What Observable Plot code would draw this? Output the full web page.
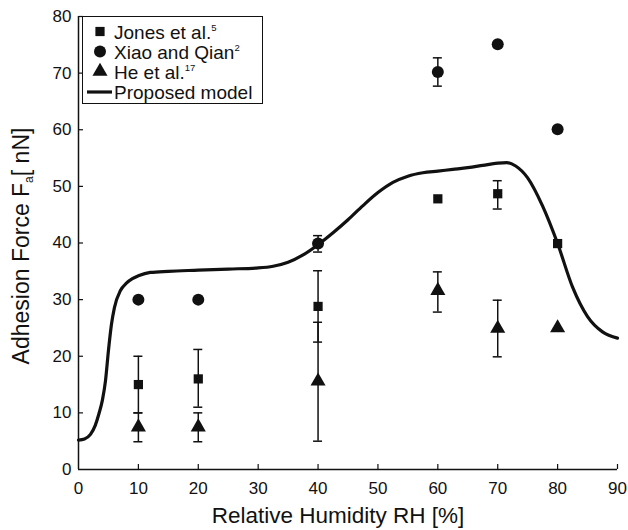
<!DOCTYPE html>
<html>
<head>
<meta charset="utf-8">
<script src="https://cdn.jsdelivr.net/npm/d3@7"></script>
<script src="https://cdn.jsdelivr.net/npm/@observablehq/plot@0.6"></script>
<style>
  html, body { margin: 0; padding: 0; background: #fff; }
  #chart { position: relative; width: 628px; height: 530px; }
</style>
</head>
<body>
<div id="chart"></div>
<script>
// ---- Data ----
const rh = [10, 20, 40, 60, 70, 80];

const jones   = [15, 16, 28.8, 47.8, 48.7, 39.9];
const jonesLo = [10, 11, 22.5, null, 46.0, null];
const jonesHi = [20, 21.2, 35.1, null, 51.0, null];

const xiao   = [30, 30, 39.9, 70.2, 75.1, 60.1];
const xiaoLo = [null, null, 38.4, 67.7, null, null];
const xiaoHi = [null, null, 41.3, 72.7, null, null];

const he   = [7.5, 7.5, 15.6, 31.6, 24.9, 25];
const heLo = [4.9, 4.9, 5.0, 27.8, 19.9, null];
const heHi = [10, 10, 26.0, 34.9, 29.9, null];

const modelX = [0, 1, 2, 2.8, 3.4, 4, 4.5, 5, 5.5, 6, 7, 8, 9, 10, 12, 15, 20, 25, 30, 32.5, 35, 37.5, 40, 42.5, 45, 47.5, 50, 52.5, 55, 57.5, 60, 62.5, 65, 67.5, 70, 71.5, 73, 75, 77.5, 80, 82.5, 85, 87.5, 90];
const modelY = [5.2, 5.4, 6.2, 7.8, 9.8, 12.3, 15.6, 21.0, 25.6, 28.6, 31.6, 32.9, 33.7, 34.2, 34.8, 35.0, 35.2, 35.4, 35.6, 35.9, 36.6, 37.9, 39.7, 41.8, 44.1, 46.6, 48.9, 50.7, 51.8, 52.4, 52.7, 53.0, 53.3, 53.7, 54.1, 54.2, 53.6, 51.5, 46.5, 39.9, 32.2, 27.0, 24.3, 23.2];

const xTicks = [0, 10, 20, 30, 40, 50, 60, 70, 80, 90];
const yTicks = [0, 10, 20, 30, 40, 50, 60, 70, 80];

const xLabel = "Relative Humidity RH [%]";
const yLabelMain = "Adhesion Force F";
const yLabelSub = "a";
const yLabelEnd = "[ nN]";
const legendItems = [
  {name: "Jones et al.", sup: "5", symbol: "square"},
  {name: "Xiao and Qian", sup: "2", symbol: "circle"},
  {name: "He et al.", sup: "17", symbol: "triangle"},
  {name: "Proposed model", sup: "", symbol: "line"}
];

// ---- Build tables ----
const mk = (vals, lo, hi) => rh.map((x, i) => ({x, y: vals[i], lo: lo[i], hi: hi[i]}));
const J = mk(jones, jonesLo, jonesHi);
const X = mk(xiao, xiaoLo, xiaoHi);
const H = mk(he, heLo, heHi);
const allErr = [...J, ...X, ...H].filter(d => d.lo != null);
const model = modelX.map((x, i) => ({x, y: modelY[i]}));

const font = "'Liberation Sans', Arial, Helvetica, sans-serif";

const plot = Plot.plot({
  width: 628,
  height: 530,
  marginLeft: 78,
  marginRight: 11,
  marginTop: 16,
  marginBottom: 61,
  style: {fontFamily: font, fontSize: "17px", color: "#111", background: "#fff", overflow: "visible"},
  x: {domain: [0, 90], ticks: xTicks, label: null},
  y: {domain: [0, 80], ticks: yTicks, label: null},
  marks: [
    Plot.axisX({ticks: xTicks, tickSize: 0, tickPadding: 12, fontSize: 17, label: null}),
    Plot.axisY({ticks: yTicks, tickSize: 0, tickPadding: 7, fontSize: 17, label: null}),
    // inward ticks
    Plot.ruleX(xTicks.slice(1), {x: d => d, y1: 0, y2: 0, insetTop: -5, stroke: "#111", strokeWidth: 1.2}),
    Plot.ruleY(yTicks.slice(1), {y: d => d, x1: 0, x2: 0, insetRight: -5, stroke: "#111", strokeWidth: 1.2}),
    // axis lines
    Plot.ruleY([0], {x1: 0, x2: 90, stroke: "#111", strokeWidth: 1.5}),
    Plot.ruleX([0], {y1: 0, y2: 80, stroke: "#111", strokeWidth: 1.5}),
    // model curve
    Plot.line(model, {x: "x", y: "y", curve: "monotone-x", stroke: "#111", strokeWidth: 3.2}),
    // error bars
    Plot.ruleX(allErr, {x: "x", y1: "lo", y2: "hi", stroke: "#111", strokeWidth: 1.5}),
    Plot.ruleY(allErr, {y: "lo", x1: "x", x2: "x", insetLeft: -4.5, insetRight: -4.5, stroke: "#111", strokeWidth: 1.5}),
    Plot.ruleY(allErr, {y: "hi", x1: "x", x2: "x", insetLeft: -4.5, insetRight: -4.5, stroke: "#111", strokeWidth: 1.5}),
    // points
    Plot.dot(J, {x: "x", y: "y", symbol: "square", r: 5.2, fill: "#111", stroke: "none"}),
    Plot.dot(X, {x: "x", y: "y", symbol: "circle", r: 6, fill: "#111", stroke: "none"}),
    Plot.dot(H, {x: "x", y: "y", symbol: "triangle", r: 5.6, fill: "#111", stroke: "none"})
  ]
});

document.getElementById("chart").appendChild(plot);

// ---- Axis labels and legend added to the SVG ----
const svg = d3.select(plot);

svg.append("text")
  .attr("x", 338).attr("y", 523)
  .attr("text-anchor", "middle")
  .attr("font-family", font).attr("font-size", 22.5).attr("fill", "#111")
  .text(xLabel);

const yl = svg.append("text")
  .attr("transform", "translate(29,246) rotate(-90)")
  .attr("text-anchor", "middle")
  .attr("font-family", font).attr("font-size", 23).attr("fill", "#111");
yl.append("tspan").text(yLabelMain);
yl.append("tspan").attr("font-size", 12).attr("dy", 4).text(yLabelSub);
yl.append("tspan").attr("dy", -4).text(yLabelEnd);

const lg = svg.append("g");
lg.append("rect")
  .attr("x", 82.5).attr("y", 16.5).attr("width", 180).attr("height", 87)
  .attr("fill", "#fff").attr("stroke", "#111").attr("stroke-width", 1);

const rowY = [31.5, 51.5, 71.5, 92];
const sym = {square: d3.symbolSquare, circle: d3.symbolCircle, triangle: d3.symbolTriangle};
const symR = {square: 5.2, circle: 6, triangle: 5.6};
legendItems.forEach((it, i) => {
  const cy = rowY[i];
  if (it.symbol === "line") {
    lg.append("line").attr("x1", 87).attr("x2", 112).attr("y1", cy).attr("y2", cy)
      .attr("stroke", "#111").attr("stroke-width", 3.2);
  } else {
    const r = symR[it.symbol];
    lg.append("path")
      .attr("transform", `translate(100,${cy})`)
      .attr("d", d3.symbol(sym[it.symbol], Math.PI * r * r)())
      .attr("fill", "#111");
  }
  const t = lg.append("text")
    .attr("x", 114).attr("y", cy + 7)
    .attr("text-anchor", "start")
    .attr("font-family", font).attr("font-size", 19).attr("fill", "#111");
  t.append("tspan").text(it.name);
  if (it.sup) t.append("tspan").attr("font-size", 9.5).attr("dy", -7.5).text(it.sup);
});
</script>
</body>
</html>
